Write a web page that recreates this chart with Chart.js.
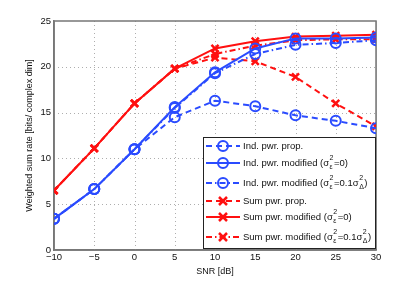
<!DOCTYPE html>
<html>
<head>
<meta charset="utf-8">
<script src="https://cdn.jsdelivr.net/npm/chart.js@4/dist/chart.umd.min.js"></script>
<style>
  html, body { margin: 0; padding: 0; background: #fff; }
  #wrap { width: 415px; height: 281px; }
</style>
</head>
<body>
<div id="wrap"><canvas id="rateChart" width="415" height="281"></canvas></div>
<script>
// SNR points and rates
const snr = [-10, -5, 0, 5, 10, 15, 20, 25, 30];
const indProp = [3.4, 6.65, 11.0, 14.5, 16.3, 15.7, 14.7, 14.1, 13.3];
const indMod = [3.4, 6.65, 11.0, 15.6, 19.4, 22.0, 23.1, 23.1, 23.2];
const indMod01 = [3.4, 6.65, 11.0, 15.5, 19.3, 21.4, 22.4, 22.6, 22.9];
const sumProp = [6.5, 11.1, 16.0, 19.8, 21.0, 20.6, 18.9, 16.0, 13.5];
const sumMod = [6.5, 11.1, 16.0, 19.8, 22.0, 22.8, 23.3, 23.4, 23.5];
const sumMod01 = [6.5, 11.1, 16.0, 19.8, 21.4, 22.3, 22.9, 23.0, 23.0];
const xTicks = [-10, -5, 0, 5, 10, 15, 20, 25, 30];
const yTicks = [0, 5, 10, 15, 20, 25];

const BLUE = '#2a4bff';
const RED = '#ff1010';
const DASH = [6, 4];
const DASHDOT = [6, 3, 1.5, 3];
const FONT = '"Liberation Sans", Arial, sans-serif';

function pts(arr) {
    return snr.map((x, i) => ({ x: x, y: arr[i] }));
}

function series(label, arr, color, dash, marker) {
    return {
        label: label,
        data: pts(arr),
        borderColor: color,
        backgroundColor: 'transparent',
        borderWidth: 2,
        borderDash: dash,
        pointStyle: marker,
        pointRadius: 5,
        pointBorderWidth: marker === 'circle' ? 2 : 2.5,
        pointBorderColor: color,
        pointBackgroundColor: 'transparent',
        tension: 0
    };
}

// legend labels: [text, sup, sub] pieces
const legendItems = [
    { color: BLUE, dash: DASH, marker: 'circle', parts: [['Ind. pwr. prop.']] },
    { color: BLUE, dash: [], marker: 'circle', parts: [['Ind. pwr. modified ('], ['\u03c3', '2', '\u03b5'], ['=0)']] },
    { color: BLUE, dash: DASHDOT, marker: 'circle', parts: [['Ind. pwr. modified ('], ['\u03c3', '2', '\u03b5'], ['=0.1\u03c3', '2', '\u0394'], [')']] },
    { color: RED, dash: DASH, marker: 'cross', parts: [['Sum pwr. prop.']] },
    { color: RED, dash: [], marker: 'cross', parts: [['Sum pwr. modified ('], ['\u03c3', '2', '\u03b5'], ['=0)']] },
    { color: RED, dash: DASHDOT, marker: 'cross', parts: [['Sum pwr. modified ('], ['\u03c3', '2', '\u03b5'], ['=0.1\u03c3', '2', '\u0394'], [')']] }
];
const legendRows = [146, 163, 183, 201, 217, 237];

const boxLegend = {
    id: 'boxLegend',
    afterDraw(chart) {
        const ctx = chart.ctx;
        const area = chart.chartArea;
        const left = 203, right = area.right, top = 137, bottom = area.bottom - 1;
        ctx.save();
        ctx.fillStyle = '#fff';
        ctx.fillRect(left, top, right - left, bottom - top);
        ctx.strokeStyle = '#222';
        ctx.lineWidth = 1;
        ctx.strokeRect(left + 0.5, top + 0.5, right - left - 1, bottom - top - 1);

        legendItems.forEach((item, i) => {
            const y = legendRows[i];
            ctx.strokeStyle = item.color;
            ctx.lineWidth = 2;
            ctx.setLineDash(item.dash);
            ctx.beginPath();
            ctx.moveTo(206, y);
            ctx.lineTo(240, y);
            ctx.stroke();
            ctx.setLineDash([]);
            ctx.lineWidth = item.marker === 'circle' ? 2 : 2.5;
            ctx.beginPath();
            if (item.marker === 'circle') {
                ctx.arc(223, y, 5, 0, Math.PI * 2);
            } else {
                ctx.moveTo(219, y - 4); ctx.lineTo(227, y + 4);
                ctx.moveTo(227, y - 4); ctx.lineTo(219, y + 4);
            }
            ctx.stroke();

            // label text with sup/sub scripts
            let x = 243;
            ctx.fillStyle = '#111';
            ctx.textBaseline = 'middle';
            item.parts.forEach(p => {
                ctx.font = '9.5px ' + FONT;
                ctx.fillText(p[0], x, y);
                x += ctx.measureText(p[0]).width;
                if (p[1]) {
                    ctx.font = '7px ' + FONT;
                    ctx.fillText(p[1], x + 0.5, y - 5);
                    let w = ctx.measureText(p[1]).width;
                    if (p[2]) {
                        ctx.fillText(p[2], x + 0.5, y + 4);
                        w = Math.max(w, ctx.measureText(p[2]).width);
                    }
                    x += w + 1;
                }
            });
        });
        ctx.restore();
    }
};

new Chart(document.getElementById('rateChart').getContext('2d'), {
    type: 'line',
    data: {
        datasets: [
            series('Ind. pwr. prop.', indProp, BLUE, DASH, 'circle'),
            series('Ind. pwr. modified', indMod, BLUE, [], 'circle'),
            series('Ind. pwr. modified 0.1', indMod01, BLUE, DASHDOT, 'circle'),
            series('Sum pwr. prop.', sumProp, RED, DASH, 'crossRot'),
            series('Sum pwr. modified', sumMod, RED, [], 'crossRot'),
            series('Sum pwr. modified 0.1', sumMod01, RED, DASHDOT, 'crossRot')
        ]
    },
    options: {
        responsive: false,
        animation: false,
        layout: { padding: { left: 24, top: 21, right: 39, bottom: 4 } },
        plugins: {
            legend: { display: false },
            tooltip: { enabled: false }
        },
        scales: {
            x: {
                type: 'linear',
                min: -10,
                max: 30,
                afterBuildTicks: axis => { axis.ticks = xTicks.map(v => ({ value: v })); },
                afterFit: axis => { axis.height = 27; },
                ticks: {
                    font: { size: 9.5, family: FONT },
                    color: '#111',
                    padding: 2,
                    maxRotation: 0,
                    callback: v => (v < 0 ? '\u2212' + Math.abs(v) : v)
                },
                grid: {
                    color: '#b0b0b0',
                    lineWidth: 0.8,
                    drawTicks: false
                },
                border: { display: true, color: '#777', width: 1.5 },
                title: {
                    display: true,
                    text: 'SNR [dB]',
                    font: { size: 9, family: FONT },
                    color: '#111',
                    padding: { top: 0, bottom: 0 }
                }
            },
            y: {
                type: 'linear',
                min: 0,
                max: 25,
                afterBuildTicks: axis => { axis.ticks = yTicks.map(v => ({ value: v })); },
                afterFit: axis => { axis.width = 30; },
                ticks: {
                    font: { size: 9.5, family: FONT },
                    color: '#111',
                    padding: 3
                },
                grid: {
                    color: '#b0b0b0',
                    lineWidth: 0.8,
                    drawTicks: false
                },
                border: { display: true, color: '#777', width: 1.5 },
                title: {
                    display: true,
                    text: 'Weighted sum rate [bits/ complex dim]',
                    font: { size: 9, family: FONT },
                    color: '#111',
                    padding: { top: 0, bottom: 0 }
                }
            }
        }
    },
    plugins: [
        {
            id: 'dottedGridAndFrame',
            beforeDatasetsDraw(chart) {
                // redraw grid as dotted lines, plus the top/right frame
                const { ctx, chartArea: a, scales } = chart;
                ctx.save();
                ctx.fillStyle = '#fff';
                ctx.fillRect(a.left + 1, a.top, a.right - a.left - 1, a.bottom - a.top - 1);
                ctx.strokeStyle = '#999';
                ctx.lineWidth = 0.8;
                ctx.setLineDash([1, 3]);
                xTicks.slice(1, -1).forEach(v => {
                    const px = Math.round(scales.x.getPixelForValue(v)) + 0.5;
                    ctx.beginPath(); ctx.moveTo(px, a.top); ctx.lineTo(px, a.bottom); ctx.stroke();
                });
                yTicks.slice(1, -1).forEach(v => {
                    const py = Math.round(scales.y.getPixelForValue(v)) + 0.5;
                    ctx.beginPath(); ctx.moveTo(a.left, py); ctx.lineTo(a.right, py); ctx.stroke();
                });
                ctx.setLineDash([]);
                ctx.strokeStyle = '#777';
                ctx.lineWidth = 1.5;
                ctx.strokeRect(a.left, a.top, a.right - a.left, a.bottom - a.top);
                ctx.restore();
            }
        },
        boxLegend
    ]
});
</script>
</body>
</html>
